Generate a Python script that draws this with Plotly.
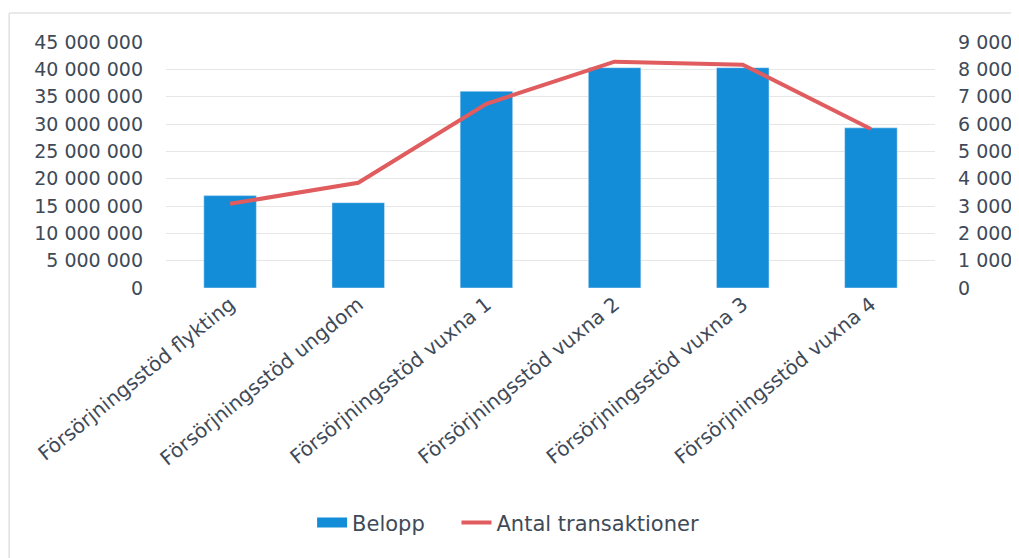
import plotly.graph_objects as go

categories = ["Försörjningsstöd flykting", "Försörjningsstöd ungdom", "Försörjningsstöd vuxna 1",
              "Försörjningsstöd vuxna 2", "Försörjningsstöd vuxna 3", "Försörjningsstöd vuxna 4"]
belopp = [16900000, 15600000, 36000000, 40300000, 40300000, 29300000]
antal = [3080, 3850, 6740, 8280, 8170, 5820]

left_ticks = list(range(0, 45000001, 5000000))
left_labels = ["0" if v == 0 else f"{v:,}".replace(",", " ") for v in left_ticks]
right_ticks = list(range(0, 9001, 1000))
right_labels = ["0" if v == 0 else f"{v:,}".replace(",", " ") for v in right_ticks]

TXT = "#3E4A58"
FAM = "DejaVu Sans, sans-serif"
BLUE = "#148DD9"
RED = "#E05C5E"

fig = go.Figure()
fig.add_trace(go.Bar(x=categories, y=belopp, name="Belopp", marker_color=BLUE, yaxis="y",
                     showlegend=False))
fig.add_trace(go.Scatter(x=[None], y=[None], name="Belopp\u00a0\u00a0\u00a0\u00a0", mode="lines",
                         line=dict(color=BLUE, width=10), yaxis="y", showlegend=True))
fig.add_trace(go.Scatter(x=categories, y=antal, name="Antal transaktioner", mode="lines",
                         line=dict(color=RED, width=4), yaxis="y2"))

# page body has an 8px margin, so the figure is sized to fit the 1019x558 window
fig.update_layout(
    width=1011, height=550,
    margin=dict(l=158, r=84, t=34, b=270, autoexpand=False),
    paper_bgcolor="white", plot_bgcolor="white",
    font=dict(family=FAM, size=19, color=TXT),
    bargap=0.59,
    showlegend=True,
    legend=dict(orientation="h", x=0.19, y=-0.955, xanchor="left", yanchor="middle",
                font=dict(family=FAM, size=21, color=TXT), tracegroupgap=0),
    xaxis=dict(tickangle=-39, showgrid=False, showline=False, ticks="", automargin=False,
               tickfont=dict(family=FAM, size=20, color=TXT)),
    yaxis=dict(range=[0, 45000000], tickvals=left_ticks, ticktext=left_labels,
               showgrid=True, gridcolor="#E6E6E6", gridwidth=1, zeroline=False,
               ticks="", ticklabelstandoff=22, showline=False, automargin=False),
    yaxis2=dict(range=[0, 9000], tickvals=right_ticks, ticktext=right_labels,
                overlaying="y", side="right", showgrid=False, zeroline=False,
                ticks="", ticklabelstandoff=22, showline=False, automargin=False),
    shapes=[
        dict(type="line", xref="paper", yref="paper", x0=-0.204, x1=-0.204, y0=-1.1, y1=1.118,
             line=dict(color="#E2E2E2", width=1.5), layer="below"),
        dict(type="line", xref="paper", yref="paper", x0=-0.204, x1=1.11, y0=1.118, y1=1.118,
             line=dict(color="#E2E2E2", width=1.5), layer="below"),
    ],
)

fig.write_html("out.html")
